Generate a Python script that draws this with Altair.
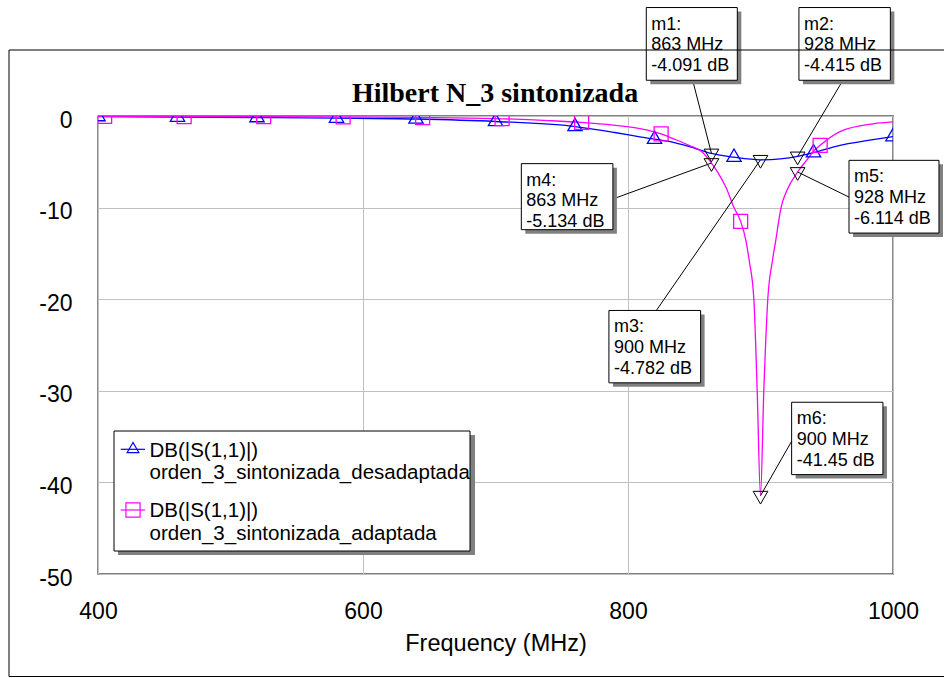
import altair as alt
import pandas as pd

# ---------------- data ----------------
title_text = "Hilbert N_3 sintonizada"
x_title = "Frequency (MHz)"
x_ticks = [400, 600, 800, 1000]
y_ticks = [0, -10, -20, -30, -40, -50]
trace_label = "DB(|S(1,1)|)"
series_names = ["orden_3_sintonizada_desadaptada", "orden_3_sintonizada_adaptada"]

blue_freq = [400, 460, 520, 580, 640, 700, 760, 790, 810, 835, 850, 863, 880, 900,
             915, 928, 940, 960, 980, 1000]
blue_db = [-0.06, -0.12, -0.17, -0.23, -0.33, -0.6, -1.15, -1.8, -2.3, -2.9, -3.5,
           -4.091, -4.5, -4.782, -4.68, -4.415, -4.0, -3.2, -2.7, -2.25]

pink_freq = [400, 460, 520, 580, 640, 700, 740, 765, 789, 809, 825, 834, 846, 856,
             863, 868, 874, 880, 885, 889, 891.5, 895, 897.5, 900, 902.5, 905.5, 909,
             911.5, 915.5, 920, 928, 935, 940, 945, 960, 985, 1000]
pink_db = [-0.05, -0.06, -0.07, -0.1, -0.16, -0.28, -0.5, -0.7, -1.0, -1.38, -1.95,
           -2.47, -3.2, -3.93, -5.134, -6.2, -7.8, -10.0, -11.5, -13.6, -15.8, -20.0,
           -30.0, -41.45, -30.0, -20.0, -15.8, -13.6, -10.0, -8.1, -6.114, -4.8,
           -3.85, -3.2, -1.7, -0.85, -0.65]

blue_sym_freq = [400, 460, 520, 580, 640, 700, 760, 820, 880, 940, 1000]
blue_sym_db = [-0.06, -0.12, -0.17, -0.23, -0.33, -0.6, -1.15, -2.54, -4.5, -4.0, -2.25]
pink_sym_freq = [405, 465, 525, 585, 645, 705, 765, 825, 885, 945]
pink_sym_db = [-0.05, -0.06, -0.07, -0.1, -0.17, -0.28, -0.7, -1.95, -11.5, -3.2]

marker_names = ["m1", "m2", "m3", "m4", "m5", "m6"]
marker_freq = [863, 928, 900, 863, 928, 900]
marker_db = [-4.091, -4.415, -4.782, -5.134, -6.114, -41.45]
marker_db_text = ["-4.091", "-4.415", "-4.782", "-5.134", "-6.114", "-41.45"]

# ---------------- layout (positions, not data) ----------------
W, H = 795, 458
FONT = "Liberation Sans"
BLUE, PINK = "#0000ff", "#ff00ff"
SHADOW = "#808080"
# annotation boxes in axis units: left f, top dB, right f, bottom dB, leader start f, dB
box_layout = {
    "m1": (813.8, 11.84, 882.5, 3.90, 848.8, 3.90),
    "m2": (929.0, 11.84, 998.0, 3.90, 962.2, 3.90),
    "m3": (785.6, -21.23, 854.8, -29.13, 821.4, -21.23),
    "m4": (719.5, -5.20, 788.6, -12.41, 791.2, -8.92),
    "m5": (966.8, -4.84, 1034.7, -12.78, 966.8, -8.85),
    "m6": (923.5, -31.25, 992.4, -39.15, 923.5, -35.51),
}

xscale = alt.Scale(domain=[400, 1000], nice=False, zero=False)
yscale = alt.Scale(domain=[-50, 0], nice=False, zero=False)
xaxis = alt.Axis(values=x_ticks, title=x_title, grid=True, ticks=False, domain=False,
                 labelFontSize=23, labelPadding=26, labelColor="black", labelFont=FONT,
                 labelFlush=False, labelOverlap=False, labelExpr="'' + datum.value",
                 titleFont=FONT, titleFontSize=23.5, titleFontWeight="normal",
                 titleColor="black", titleBaseline="alphabetic", titleY=76,
                 gridColor="#c0c0c0", gridWidth=1)
yaxis = alt.Axis(values=y_ticks, title=None, grid=True, ticks=False, domain=False,
                 labelFontSize=23, labelPadding=26, labelColor="black", labelFont=FONT,
                 labelFlush=False, labelOverlap=False, labelOffset=4,
                 labelExpr="'' + datum.value", gridColor="#c0c0c0", gridWidth=1)


def X(field):
    return alt.X(f"{field}:Q", scale=xscale, axis=xaxis, title=x_title)


def Y(field):
    return alt.Y(f"{field}:Q", scale=yscale, axis=yaxis, title=None)


blue_df = pd.DataFrame({"f": blue_freq, "d": blue_db})
pink_df = pd.DataFrame({"f": pink_freq, "d": pink_db})
bsym_df = pd.DataFrame({"f": blue_sym_freq, "d": blue_sym_db})
psym_df = pd.DataFrame({"f": pink_sym_freq, "d": pink_sym_db})

rows = []
for n, f, d, t in zip(marker_names, marker_freq, marker_db, marker_db_text):
    bl = box_layout[n]
    rows.append({"name": n, "f": f, "d": d,
                 "txt": f"{n}:\n{f} MHz\n{t} dB",
                 "bx1": bl[0], "by1": bl[1], "bx2": bl[2], "by2": bl[3],
                 "lf": bl[4], "ld": bl[5]})
mk_df = pd.DataFrame(rows)

layers = []
one = pd.DataFrame({"k": [0]})

# data lines
layers.append(alt.Chart(blue_df).mark_line(color=BLUE, strokeWidth=1.3,
              interpolate="monotone", clip=True).encode(x=X("f"), y=Y("d")))
layers.append(alt.Chart(pink_df).mark_line(color=PINK, strokeWidth=1.3,
              interpolate="monotone", clip=True).encode(x=X("f"), y=Y("d")))
# series symbols
layers.append(alt.Chart(bsym_df).mark_point(shape="triangle-up", filled=False, color=BLUE,
              size=204, strokeWidth=1.3, yOffset=-2, clip=True, opacity=1)
              .encode(x=X("f"), y=Y("d")))
layers.append(alt.Chart(psym_df).mark_point(shape="square", filled=False, color=PINK,
              size=196, strokeWidth=1.3, clip=True, opacity=1)
              .encode(x=X("f"), y=Y("d")))
# marker leaders, triangles, boxes
layers.append(alt.Chart(mk_df).mark_rule(color="black", strokeWidth=1)
              .encode(x=X("lf"), y=Y("ld"), x2=alt.X2("f"), y2=alt.Y2("d")))
layers.append(alt.Chart(mk_df).mark_point(shape="triangle-down", filled=False, color="black",
              size=216, strokeWidth=1, yOffset=2, opacity=1)
              .encode(x=X("f"), y=Y("d")))
layers.append(alt.Chart(mk_df).mark_rect(fill=SHADOW, xOffset=4, x2Offset=4,
              yOffset=4, y2Offset=4)
              .encode(x=X("bx1"), x2=alt.X2("bx2"), y=Y("by1"), y2=alt.Y2("by2")))
layers.append(alt.Chart(mk_df).mark_rect(fill="white", stroke="black", strokeWidth=1)
              .encode(x=X("bx1"), x2=alt.X2("bx2"), y=Y("by1"), y2=alt.Y2("by2")))
layers.append(alt.Chart(mk_df).mark_text(align="left", baseline="alphabetic", dx=5, dy=22,
              fontSize=18, font=FONT, lineBreak="\n", lineHeight=20.8, color="black")
              .encode(x=X("bx1"), y=Y("by1"), text="txt:N"))

# legend (ADS-style box with shadow)
layers.append(alt.Chart(one).mark_rect(fill=SHADOW).encode(
    x=alt.value(20), x2=alt.value(377), y=alt.value(319), y2=alt.value(439)))
layers.append(alt.Chart(one).mark_rect(fill="white", stroke="black", strokeWidth=1).encode(
    x=alt.value(16), x2=alt.value(372), y=alt.value(315), y2=alt.value(435)))
leg_y = [333.3, 394.0]
leg_text_y = [340.5, 401.3]
leg_colors = [BLUE, PINK]
leg_shapes = ["triangle-up", "square"]
leg_sizes = [137, 200]
leg_yoff = [-1.8, 0]
for i in range(2):
    layers.append(alt.Chart(one).mark_rule(color=leg_colors[i], strokeWidth=1.2).encode(
        x=alt.value(22.7), x2=alt.value(47), y=alt.value(leg_y[i])))
    layers.append(alt.Chart(one).mark_point(shape=leg_shapes[i], filled=False,
                  color=leg_colors[i], size=leg_sizes[i], strokeWidth=1.2,
                  opacity=1, yOffset=leg_yoff[i])
                  .encode(x=alt.value(35), y=alt.value(leg_y[i])))
    layers.append(alt.Chart(one).mark_text(align="left", baseline="alphabetic", fontSize=20.5,
                  font=FONT, lineBreak="\n", lineHeight=22.5, color="black").encode(
        x=alt.value(51.5), y=alt.value(leg_text_y[i]),
        text=alt.value(trace_label + "\n" + series_names[i])))

# title and outer frame
layers.append(alt.Chart(one).mark_text(align="center", baseline="alphabetic", fontSize=28,
              font="Liberation Serif", fontWeight="bold", color="black").encode(
    x=alt.value(397), y=alt.value(-14.3), text=alt.value(title_text)))
layers.append(alt.Chart(one).mark_rect(fillOpacity=0, stroke="black", strokeWidth=1).encode(
    x=alt.value(-89), x2=alt.value(880), y=alt.value(-66), y2=alt.value(560.5)))

chart = alt.layer(*layers).properties(
    width=W, height=H,
    padding={"left": 98, "top": 116, "right": 51, "bottom": 104},
    autosize=alt.AutoSizeParams(type="none"),
    background="white",
).configure_view(stroke="black", strokeWidth=1.3)

chart.save("out.html", embed_options={"renderer": "svg", "actions": False})
